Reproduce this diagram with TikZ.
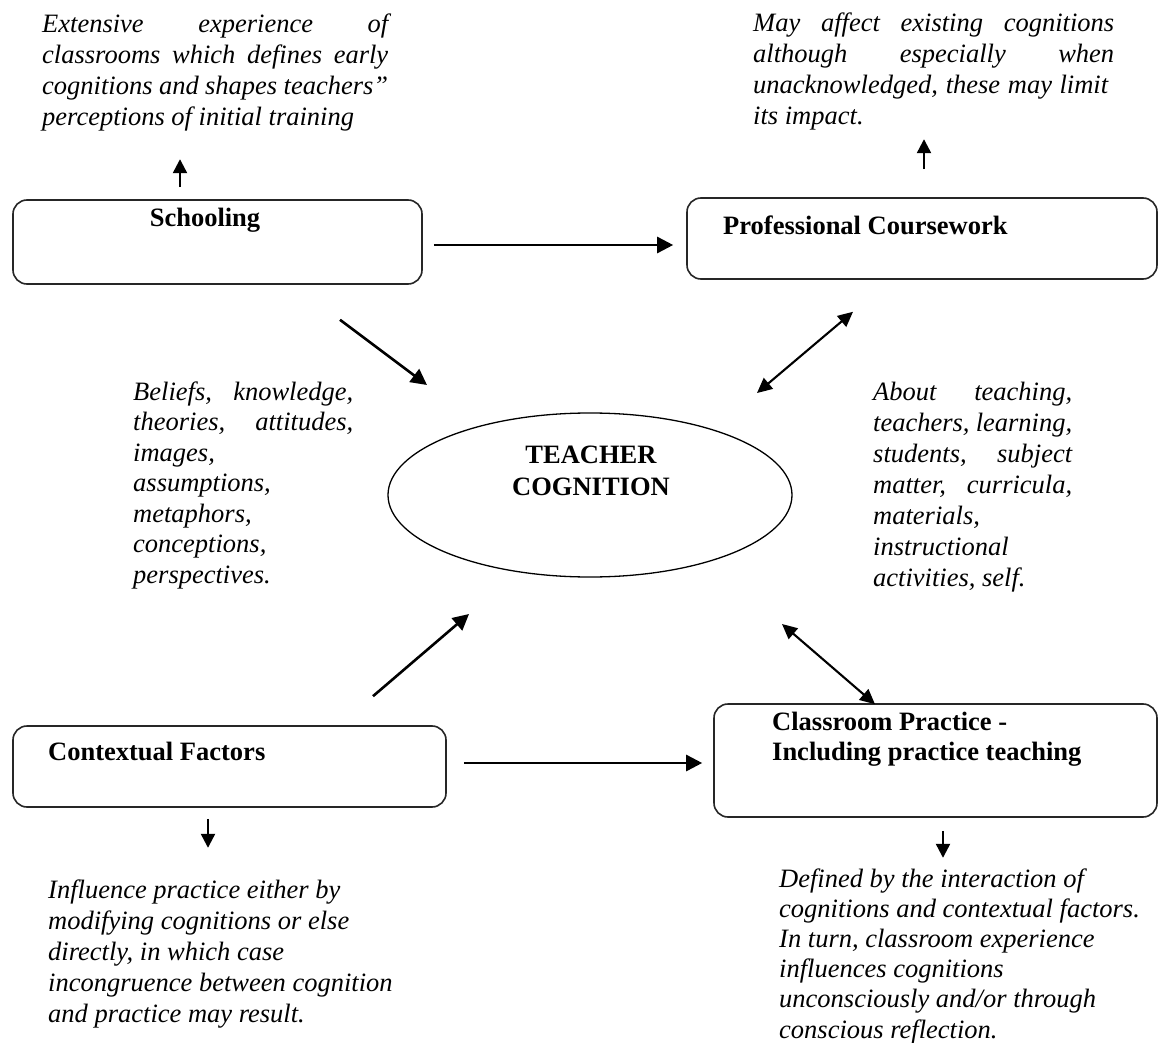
\documentclass[tikz,border=0pt]{standalone}
\usepackage{fontspec}
\setmainfont{Liberation Serif}
\usetikzlibrary{arrows.meta,shapes.geometric,calc}
\newcommand{\jline}[2]{\makebox[#1][s]{#2}}
\begin{document}
\begin{tikzpicture}[x=1pt,y=-1pt,
  box/.style={draw=black!85, line width=1.6pt, rounded corners=14pt, inner sep=0pt},
  lbl/.style={font=\fontsize{26.5}{30}\selectfont\bfseries, inner sep=0pt},
  txt/.style={font=\itshape, inner sep=0pt, anchor=base west},
  arr/.style={line width=2.6pt, -{Triangle[length=16pt,width=16pt]}},
  darr/.style={line width=2.1pt, {Triangle[length=15pt,width=14pt]}-{Triangle[length=15pt,width=14pt]}},
  sarr/.style={line width=2.3pt, -{Triangle[length=14pt,width=14pt]}}
]
\useasboundingbox[fill=white] (0,0) rectangle (1160,1043);

% boxes
\node[box, minimum width=409pt, minimum height=84pt] (school) at (217.5,242) {};
\node[box, minimum width=470pt, minimum height=81pt] (prof) at (922,238.5) {};
\node[box, minimum width=433pt, minimum height=81pt] (context) at (229.5,766.5) {};
\node[box, minimum width=443pt, minimum height=113pt] (class) at (935.5,760.5) {};
\node[draw, ellipse, line width=1.3pt, minimum width=404pt, minimum height=164pt, inner sep=0pt] (tc) at (590,495) {};

% box labels
\node[lbl, anchor=base] (schoolT) at (205,227) {Schooling};
\node[lbl, anchor=base west] (profT) at (723,235) {Professional Coursework};
\node[lbl, anchor=base west] (contextT) at (48,760) {Contextual Factors};
\node[lbl, anchor=base west] (classT) at (772,730) {\parbox[t]{380pt}{\fontsize{26.5}{30}\selectfont\bfseries Classroom Practice -\\Including practice teaching}};
\node[lbl, anchor=base] (tcT1) at (591,463) {TEACHER};
\node[lbl, anchor=base] (tcT2) at (591,495) {COGNITION};

% italic texts
\node[txt] (tl) at (42,33) {\parbox[t]{400pt}{\fontsize{26.5}{30.7}\selectfont\itshape\raggedright
\jline{346pt}{Extensive experience of}\\
\jline{346pt}{classrooms which defines early}\\
\jline{346pt}{cognitions and shapes teachers\symbol{34}}\\
perceptions of initial training}};

\node[txt] (tr) at (753,32) {\parbox[t]{400pt}{\fontsize{26.5}{31}\selectfont\itshape\raggedright
\jline{361pt}{May affect existing cognitions}\\
\jline{361pt}{although especially when}\\
\jline{355pt}{unacknowledged, these may limit}\\
its impact.}};

\node[txt] (ml) at (133,400) {\parbox[t]{300pt}{\fontsize{26.5}{30.5}\selectfont\itshape\raggedright
\jline{220pt}{Beliefs, knowledge,}\\
\jline{220pt}{theories, attitudes,}\\
images,\\
assumptions,\\
metaphors,\\
conceptions,\\
perspectives.}};

\node[txt] (mr) at (873,400) {\parbox[t]{280pt}{\fontsize{26.5}{31.1}\selectfont\itshape\raggedright
\jline{199pt}{About teaching,}\\
\jline{199pt}{teachers, learning,}\\
\jline{199pt}{students, subject}\\
\jline{199pt}{matter, curricula,}\\
materials,\\
instructional\\
activities, self.}};

\node[txt] (bl) at (48,898) {\parbox[t]{420pt}{\fontsize{26.5}{31}\selectfont\itshape\raggedright
Influence practice either by\\
modifying cognitions or else\\
directly, in which case\\
incongruence between cognition\\
and practice may result.}};

\node[txt] (br) at (779,887) {\parbox[t]{380pt}{\fontsize{26.5}{30.2}\selectfont\itshape\raggedright
Defined by the interaction of\\
cognitions and contextual factors.\\
In turn, classroom experience\\
influences cognitions\\
unconsciously and/or through\\
conscious reflection.}};

% connectors
\draw[arr] ($(school.east)+(11,3)$) -- ($(prof.west)+(-13,6.5)$);
\draw[arr] ($(context.east)+(17,-3.5)$) -- ($(class.west)+(-11,2.5)$);
\draw[arr] ($(school.south)+(122.5,35)$) -- ($(tc.center)+(-163,-110)$);
\draw[arr] ($(context.north)+(143.5,-29)$) -- ($(tc.center)+(-121,119)$);
\draw[darr] ($(tc.center)+(167,-102)$) -- ($(prof.south)+(-69,32)$);
\draw[darr] ($(tc.center)+(192,129)$) -- ($(class.north)+(-60.5,1)$);
\draw[sarr] ($(school.north)+(-37.5,-12)$) -- ++(0,-28);
\draw[sarr] ($(prof.north)+(2,-28)$) -- ++(0,-30);
\draw[sarr] ($(context.south)+(-21.5,11)$) -- ++(0,29);
\draw[sarr] ($(class.south)+(7.5,13)$) -- ++(0,27);
\end{tikzpicture}
\end{document}
